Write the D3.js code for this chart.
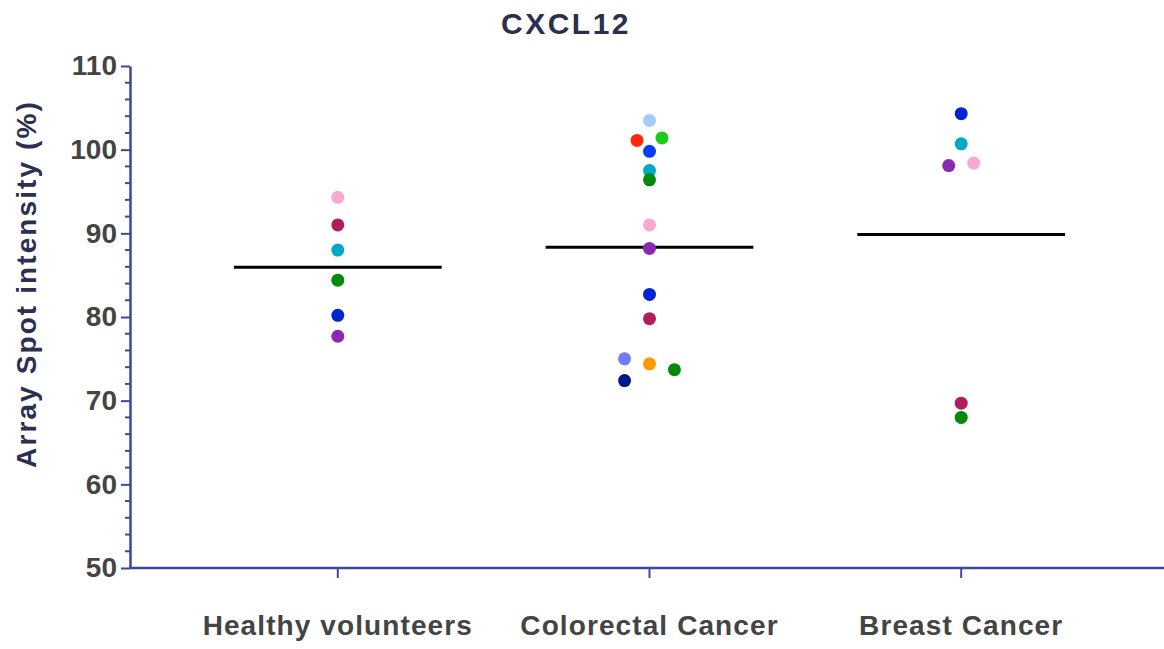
<!DOCTYPE html>
<html>
<head>
<meta charset="utf-8">
<script src="https://cdn.jsdelivr.net/npm/d3@7"></script>
<style>
  body { margin: 0; background: #fff; }
  svg { display: block; font-family: "Liberation Sans", Arial, sans-serif; }
  .title { font-size: 30px; font-weight: bold; fill: #2c2f4f; letter-spacing: 2.5px; }
  .ylabel { font-size: 28px; font-weight: bold; fill: #2c2f4f; letter-spacing: 2.1px; }
  .tick text { font-size: 28px; font-weight: bold; fill: #444; }
  .catlabel { font-size: 28px; font-weight: bold; fill: #444; letter-spacing: 1.1px; }
</style>
</head>
<body>
<svg id="Vis" width="1164" height="649"></svg>
<script>
/*
* DATA
*/

const categories = ["Healthy volunteers", "Colorectal Cancer", "Breast Cancer"];

const healthyValues = [94.3, 91.0, 88.0, 84.4, 80.2, 77.7];
const healthyColors = ["#f8a9d0", "#b01f5c", "#00a9c6", "#008a0c", "#0025d2", "#8a28b0"];
const healthySide   = [0, 0, 0, 0, 0, 0];

const colorectalValues = [103.5, 101.4, 101.1, 99.8, 97.5, 96.4, 91.0, 88.2, 82.7, 79.8, 75.0, 74.4, 73.7, 72.4];
const colorectalColors = ["#a6ccf5", "#19cc14", "#ff2a05", "#0a3cf8", "#00a9c6", "#008a0c", "#f8a9d0",
  "#8a28b0", "#0025d2", "#b01f5c", "#6e7cf8", "#ff9900", "#008a0c", "#001a8a"];
const colorectalSide   = [0, 1, -1, 0, 0, 0, 0, 0, 0, 0, -2, 0, 2, -2];

const breastValues = [104.3, 100.7, 98.4, 98.1, 69.7, 68.0];
const breastColors = ["#0025d2", "#00a9c6", "#f8a9d0", "#8a28b0", "#b01f5c", "#008a0c"];
const breastSide   = [0, 0, 1, -1, 0, 0];

const yTicks = [50, 60, 70, 80, 90, 100, 110];

const groups = [
  { name: categories[0], values: healthyValues, colors: healthyColors, side: healthySide },
  { name: categories[1], values: colorectalValues, colors: colorectalColors, side: colorectalSide },
  { name: categories[2], values: breastValues, colors: breastColors, side: breastSide }
];

/*
* SETUP
*/

const svg = d3.select("svg#Vis");
const axisColor = "#3d4899";

const x = d3.scalePoint()
  .domain(categories)
  .range([130, 1169])
  .padding(2 / 3);

const y = d3.scaleLinear()
  .domain([50, 110])
  .range([568, 66]);

const dodge = x.step() * 0.04;

/* Title */
svg.append("text")
  .attr("class", "title")
  .attr("x", 566)
  .attr("y", 34)
  .attr("text-anchor", "middle")
  .text("CXCL12");

/* Y label */
svg.append("text")
  .attr("class", "ylabel")
  .attr("transform", "translate(36,284) rotate(-90)")
  .attr("text-anchor", "middle")
  .text("Array Spot intensity (%)");

/*
* AXES
*/

/* minor ticks */
const gy = svg.append("g").attr("transform", "translate(130,0)");
gy.selectAll("line.minor")
  .data(d3.range(52, 110, 2).filter(v => v % 10 !== 0))
  .join("line")
  .attr("class", "minor")
  .attr("x1", -5).attr("x2", 0)
  .attr("y1", d => y(d)).attr("y2", d => y(d))
  .attr("stroke", axisColor)
  .attr("stroke-width", 2);

gy.call(d3.axisLeft(y).tickValues(yTicks).tickSize(9).tickPadding(4).tickSizeOuter(0))
  .call(g => g.select(".domain").attr("stroke", axisColor).attr("stroke-width", 2.5))
  .call(g => g.selectAll(".tick line").attr("stroke", axisColor).attr("stroke-width", 2))
  .call(g => g.selectAll(".tick text").attr("font-family", null).attr("font-size", null).attr("fill", null));

const gx = svg.append("g").attr("transform", "translate(0,568)");
gx.append("line")
  .attr("x1", 129).attr("x2", 1169)
  .attr("stroke", axisColor)
  .attr("stroke-width", 2.5);
gx.selectAll("line.tick")
  .data(categories)
  .join("line")
  .attr("class", "tick")
  .attr("x1", d => x(d)).attr("x2", d => x(d))
  .attr("y1", 0).attr("y2", 10)
  .attr("stroke", axisColor)
  .attr("stroke-width", 2);
gx.selectAll("text.catlabel")
  .data(categories)
  .join("text")
  .attr("class", "catlabel")
  .attr("x", d => x(d))
  .attr("y", 67)
  .attr("text-anchor", "middle")
  .text(d => d);

/*
* MEAN LINES + POINTS
*/

const marks = svg.append("g");

marks.selectAll("line.mean")
  .data(groups)
  .join("line")
  .attr("class", "mean")
  .attr("x1", d => x(d.name) - x.step() / 3)
  .attr("x2", d => x(d.name) + x.step() / 3)
  .attr("y1", d => y(d3.mean(d.values)))
  .attr("y2", d => y(d3.mean(d.values)))
  .attr("stroke", "#000")
  .attr("stroke-width", 3);

const points = groups.flatMap(g => g.values.map((v, i) => ({
  cat: g.name, value: v, color: g.colors[i], side: g.side[i]
})));

marks.selectAll("circle")
  .data(points)
  .join("circle")
  .attr("cx", d => x(d.cat) + d.side * dodge)
  .attr("cy", d => y(d.value))
  .attr("r", 6.5)
  .attr("fill", d => d.color);
</script>
</body>
</html>
